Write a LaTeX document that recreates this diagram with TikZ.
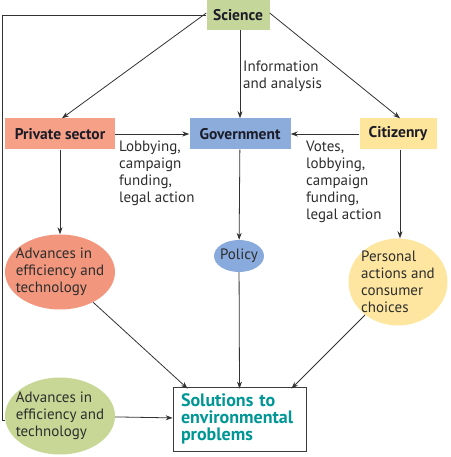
\documentclass[tikz,border=0pt]{standalone}
\usepackage{fontspec}
\setmainfont{PT Sans}
\usetikzlibrary{positioning,shapes.geometric,arrows.meta}

\begin{document}
\begin{tikzpicture}[x=1pt,y=-1pt,
  box/.style={draw=none,minimum height=31,inner sep=0pt,font=\bfseries\fontsize{15.5}{17}\selectfont,text={rgb,255:red,28;green,28;blue,40}},
  blob/.style={ellipse,draw=none,inner sep=-12pt,align=left,font=\fontsize{15}{17}\selectfont,text={rgb,255:red,45;green,45;blue,45}},
  note/.style={anchor=north west,inner sep=0pt,align=left,font=\fontsize{15}{17}\selectfont,text={rgb,255:red,45;green,45;blue,45}},
  arr/.style={draw={rgb,255:red,50;green,50;blue,50},line width=0.8pt,-{Stealth[length=7pt,width=5pt]}}]
\useasboundingbox (0,0) rectangle (450,457);

%Shape: Rectangles
\node [box,fill={rgb,255:red,197;green,214;blue,154},minimum width=63,minimum height=30] (science) at (238,15) {Science};
\node [box,fill={rgb,255:red,245;green,160;blue,135},minimum width=110] (private) at (60,134) {Private sector};
\node [box,fill={rgb,255:red,140;green,173;blue,220},minimum width=101] (gov) at (240,134) {Government};
\node [box,fill={rgb,255:red,253;green,229;blue,155},minimum width=77] (citizen) at (398,134) {Citizenry};

%Shape: Ellipses
\node [blob,fill={rgb,255:red,242;green,150;blue,125},minimum width=110,minimum height=75] (advred) at (60,272) {Advances in\\efficiency and\\technology};
\node [blob,fill={rgb,255:red,137;green,170;blue,221},minimum width=50,minimum height=32] (policy) at (239,256) {Policy};
\node [blob,fill={rgb,255:red,254;green,230;blue,160},minimum width=99,minimum height=87] (personal) at (398,282) {Personal\\actions and\\consumer\\choices};
\node [blob,fill={rgb,255:red,200;green,215;blue,150},minimum width=110,minimum height=77] (advgreen) at (60,416) {Advances in\\efficiency and\\technology};

%Shape: Solutions box
\node [draw={rgb,255:red,60;green,60;blue,60},line width=0.8pt,fill=white,minimum width=133,minimum height=64,inner xsep=8pt,inner ysep=0pt,align=left,anchor=center,
  font=\bfseries\fontsize{18}{17}\selectfont,text={rgb,255:red,0;green,150;blue,150},text width=117] (solution) at (239.5,419) {Solutions to\\environmental\\problems};

%Text labels
\node [note] (infolbl) at (243,61) {Information\\and analysis};
\node [note] (privlbl) at (119,141) {Lobbying,\\campaign\\funding,\\legal action};
\node [note] (citlbl) at (306,141) {Votes,\\lobbying,\\campaign\\funding,\\legal action};

%Straight Lines
\coordinate (loop) at (2,420);
\draw [draw={rgb,255:red,50;green,50;blue,50},line width=0.8pt] (science.west) -| (loop) -- (loop -| advgreen.west);
\draw [arr] ([yshift=2]science.west) -- ([xshift=2]private.north);
\draw [arr] (science.south -| gov.north) -- (gov.north);
\draw [arr] ([yshift=2]science.east) -- ([xshift=2]citizen.north);
\draw [arr] (private) -- (gov);
\draw [arr] (citizen) -- (gov);
\draw [arr] (private) -- (advred);
\draw [arr] (gov) -- (policy);
\draw [arr] ([xshift=2]citizen.south) -- ([xshift=2]citizen.south |- personal.north);
\draw [arr] (advred) -- ([xshift=15,yshift=-2]solution.north west);
\draw [arr] (policy) -- ([yshift=-2]solution.north);
\draw [arr] (personal) -- ([xshift=-15,yshift=-2]solution.north east);
\draw [arr] (advgreen) -- (solution);

\end{tikzpicture}
\end{document}
